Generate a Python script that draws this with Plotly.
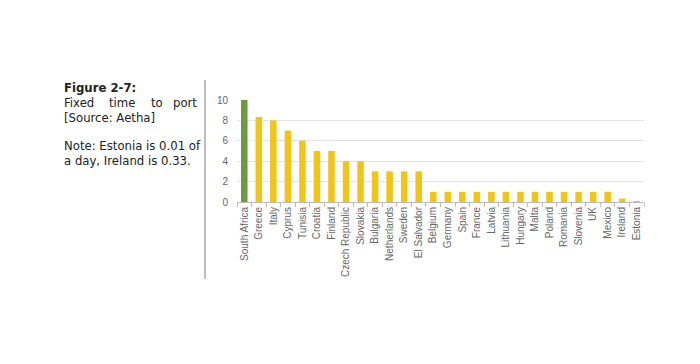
import plotly.graph_objects as go

countries = ["South Africa", "Greece", "Italy", "Cyprus", "Tunisia", "Croatia", "Finland",
             "Czech Republic", "Slovakia", "Bulgaria", "Netherlands", "Sweden", "El Salvador",
             "Belgium", "Germany", "Spain", "France", "Latvia", "Lithuania", "Hungary", "Malta",
             "Poland", "Romania", "Slovenia", "UK", "Mexico", "Ireland", "Estonia"]
days = [10, 8.33, 8, 7, 6, 5, 5, 4, 4, 3, 3, 3, 3,
        1, 1, 1, 1, 1, 1, 1, 1, 1, 1, 1, 1, 1, 0.33, 0.01]
colors = ["#6f9a45"] + ["#f0c419"] * (len(countries) - 1)

OFF = 8  # page body margin
W, H = 700 - OFF, 364 - OFF
L, R, T, B = 237 - OFF, 644 - OFF, 100 - OFF, 202 - OFF

def px(x):
    return (x - OFF - L) / (R - L)

def py(y):
    return (B - (y - OFF)) / (B - T)

fig = go.Figure(go.Bar(x=countries, y=days, marker=dict(color=colors, line_width=0), width=0.45))

txt_font = dict(family="DejaVu Sans", size=11.7, color="#222")
ann = []
def add(text, x, y, anchor="left", bold=False):
    t = "<b>%s</b>" % text if bold else text
    ann.append(dict(text=t, x=px(x), y=py(y), xref="paper", yref="paper",
                    xanchor=anchor, yanchor="middle", showarrow=False, font=txt_font))

add("Figure 2-7:", 62, 88, bold=True)
add("Fixed", 62, 103)
add("time", 107, 103)
add("to", 149, 103)
add("port", 199, 103, anchor="right")
add("[Source: Aetha]", 62, 118)
add("Note: Estonia is 0.01 of", 62, 146)
add("a day, Ireland is 0.33.", 62, 161)

fig.update_layout(
    width=W, height=H, margin=dict(l=L, r=W - R, t=T, b=H - B),
    paper_bgcolor="white", plot_bgcolor="white", showlegend=False,
    annotations=ann,
    shapes=[dict(type="line", xref="paper", yref="paper", x0=px(205), x1=px(205),
                 y0=py(80), y1=py(279), line=dict(color="#aaaaaa", width=1.5))],
    font=dict(family="Liberation Sans, Arial", size=10, color="#666"),
)
fig.update_xaxes(tickangle=-90, showline=True, linecolor="#bbbbbb", ticks="outside",
                 tickson="boundaries", ticklen=4, tickcolor="#bbbbbb", showgrid=False,
                 tickfont=dict(size=10, color="#666"), range=[-0.5, len(countries) - 0.5])
fig.update_yaxes(range=[0, 10], tickvals=[0, 2, 4, 6, 8, 10], showgrid=True,
                 gridcolor="#e3e3e3", gridwidth=1, zeroline=False, ticks="",
                 ticklabelstandoff=8, tickfont=dict(size=10, color="#666"))

fig.write_html("out.html")
